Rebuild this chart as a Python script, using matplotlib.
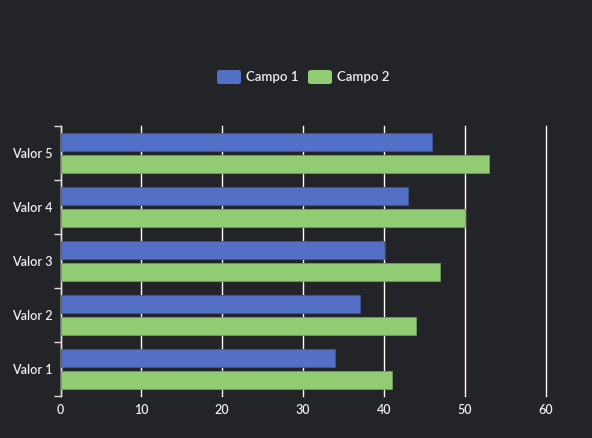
import matplotlib
matplotlib.use("Agg")
import matplotlib.pyplot as plt
from matplotlib.patches import FancyBboxPatch
import numpy as np

categories = ["Valor 1", "Valor 2", "Valor 3", "Valor 4", "Valor 5"]
campo1 = [34, 37, 40, 43, 46]
campo2 = [41, 44, 47, 50, 53]
series_names = ["Campo 1", "Campo 2"]
colors = ["#5470c6", "#91cc75"]
edge_colors = ["#3f539a", "#6f9e59"]
xticks = [0, 10, 20, 30, 40, 50, 60]

bg = "#232427"
txt = "#eeeeee"
plt.rcParams['font.family'] = ['Lato', 'DejaVu Sans']

W, H = 592, 438
fig = plt.figure(figsize=(W / 100, H / 100), dpi=100, facecolor=bg)
ax = fig.add_axes([60.5 / W, (H - 396) / H, (545.5 - 60.5) / W, (396 - 126) / H])
ax.set_facecolor(bg)

y = np.arange(len(categories))
h = 0.328
off = 0.201
ax.barh(y + off, campo1, height=h, color=colors[0], edgecolor=edge_colors[0], linewidth=0.6, zorder=3)
ax.barh(y - off, campo2, height=h, color=colors[1], edgecolor=edge_colors[1], linewidth=0.6, zorder=3)

ax.set_xlim(0, 60)
ax.set_ylim(-0.5, len(categories) - 0.5)
ax.set_xticks(xticks)
ax.set_xticklabels([str(v) for v in xticks])
ax.grid(axis='x', color='#ffffff', linewidth=1, zorder=1)
for gl in ax.get_xgridlines():
    gl.set_clip_on(False)
ax.tick_params(axis='x', length=0, colors=txt, labelsize=9, pad=5.5)

ax.set_yticks(y)
ax.set_yticklabels(categories)
ax.set_yticks(np.arange(len(categories) + 1) - 0.5, minor=True)
ax.tick_params(axis='y', which='major', length=0, colors=txt, labelsize=9, pad=6)
ax.tick_params(axis='y', which='minor', length=5, color='#dddddd', width=1)
for lab in ax.get_yticklabels() + ax.get_xticklabels():
    lab.set_fontweight('semibold')

for s in ['top', 'right', 'bottom']:
    ax.spines[s].set_visible(False)
ax.spines['left'].set_color('#dddddd')
ax.spines['left'].set_linewidth(1)

# legend
legend_y = (H - 77) / H
items = [(217, 246), (308, 337)]
for (rx, tx), name, c in zip(items, series_names, colors):
    p = FancyBboxPatch((rx / W, (H - 84) / H), 24 / W, 14 / H,
                       boxstyle="round,pad=0,rounding_size=0.005",
                       transform=fig.transFigure, facecolor=c, edgecolor='none')
    fig.patches.append(p)
    fig.text(tx / W, legend_y, name, color=txt, fontsize=9.5, va='center', ha='left',
             fontweight='semibold')

fig.savefig("out.png", dpi=100, facecolor=bg)
